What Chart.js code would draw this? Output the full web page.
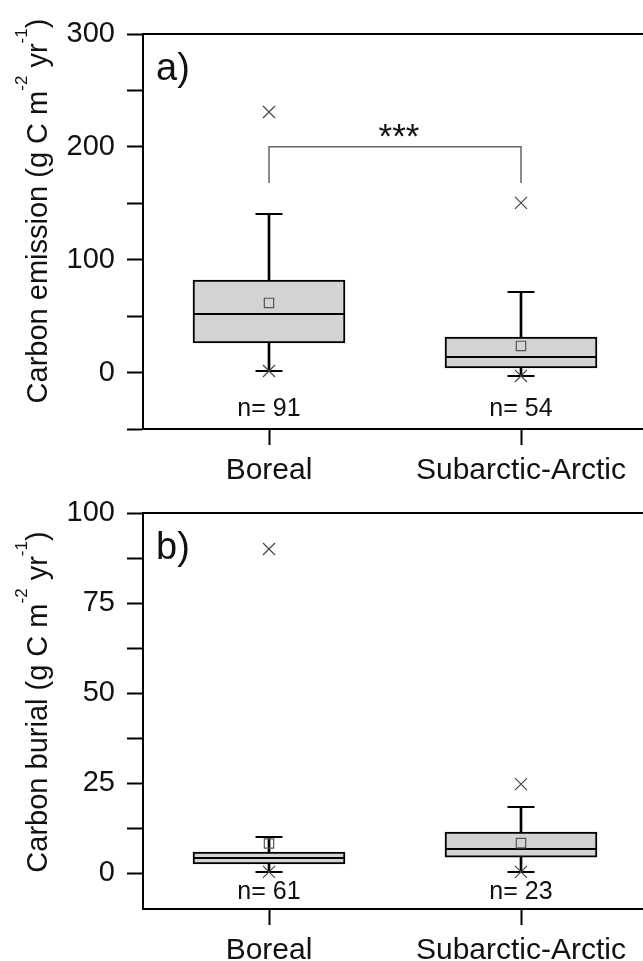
<!DOCTYPE html>
<html>
<head>
<meta charset="utf-8">
<script src="https://cdn.jsdelivr.net/npm/chart.js@4.4.1/dist/chart.umd.min.js"></script>
<style>
body{margin:0;background:#fff;overflow:hidden;width:643px;height:961px;position:relative;}
canvas{position:absolute;left:0;}
#emission{top:0}
#burial{top:480px}
</style>
</head>
<body>
<canvas id="emission" width="660" height="480"></canvas>
<canvas id="burial" width="660" height="481"></canvas>
<script>
const categories = ["Boreal", "Subarctic-Arctic"];

// a) carbon emission
const emisQ1 = [26.2, 4.1];
const emisQ3 = [82.0, 31.5];
const emisMedian = [51.9, 13.8];
const emisMean = [61.7, 23.6];
const emisLow = [1.4, -3.0];
const emisHigh = [140.4, 71.4];
const emisOutliers = [230.9, 150.4];
const emisN = ["n= 91", "n= 54"];
const emisTickLabels = [0, 100, 200, 300];

// b) carbon burial
const burQ1 = [2.5, 4.4];
const burQ3 = [5.8, 11.4];
const burMedian = [4.2, 6.7];
const burMean = [8.2, 8.3];
const burLow = [0.3, 0.3];
const burHigh = [10.0, 18.3];
const burOutliers = [90.0, 24.7];
const burN = ["n= 61", "n= 23"];
const burTickLabels = [0, 25, 50, 75, 100];

const FONT = '"Liberation Sans", Arial, Helvetica, sans-serif';
const INK = '#111';

function pts(vals) {
  return vals.map((v, i) => ({ x: categories[i], y: v }));
}

function drawYTitle(ctx, parts, cx, cy) {
  ctx.save();
  ctx.translate(cx, cy);
  ctx.rotate(-Math.PI / 2);
  let total = 0;
  parts.forEach(p => {
    ctx.font = (p.sup ? 17 : 29) + 'px ' + FONT;
    p.w = ctx.measureText(p.t).width;
    total += p.w;
  });
  let x = -total / 2;
  ctx.fillStyle = INK;
  ctx.textAlign = 'left';
  ctx.textBaseline = 'alphabetic';
  parts.forEach(p => {
    ctx.font = (p.sup ? 17 : 29) + 'px ' + FONT;
    ctx.fillText(p.t, x, p.sup ? -20 : 0);
    x += p.w;
  });
  ctx.restore();
}

function boxChart(id, d) {
  const extras = {
    id: 'extras',
    afterDraw(chart) {
      const { ctx, chartArea: a, scales: { x, y } } = chart;
      ctx.save();
      // top frame line
      ctx.strokeStyle = '#000';
      ctx.lineWidth = 2;
      ctx.beginPath();
      ctx.moveTo(a.left - 1, a.top);
      ctx.lineTo(chart.width, a.top);
      ctx.stroke();
      // panel letter
      ctx.fillStyle = INK;
      ctx.font = '38px ' + FONT;
      ctx.textAlign = 'left';
      ctx.textBaseline = 'middle';
      ctx.fillText(d.letter, a.left + 13, a.top + 36);
      // sample sizes
      ctx.font = '25px ' + FONT;
      ctx.textAlign = 'center';
      d.n.forEach((t, i) => ctx.fillText(t, x.getPixelForValue(i), y.getPixelForValue(d.nAt)));
      // significance bracket
      if (d.bracket) {
        const x0 = x.getPixelForValue(0), x1 = x.getPixelForValue(1);
        const yt = y.getPixelForValue(d.bracket[0]), yb = y.getPixelForValue(d.bracket[1]);
        ctx.strokeStyle = '#666';
        ctx.lineWidth = 1.5;
        ctx.beginPath();
        ctx.moveTo(x0, yb); ctx.lineTo(x0, yt); ctx.lineTo(x1, yt); ctx.lineTo(x1, yb);
        ctx.stroke();
        ctx.font = '35px ' + FONT;
        ctx.fillText('***', (x0 + x1) / 2 + 4, yt - 9);
      }
      ctx.restore();
      drawYTitle(ctx, d.title, 47, d.titleY);
    }
  };

  return new Chart(document.getElementById(id), {
    type: 'bar',
    data: {
      labels: categories,
      datasets: [
        { type: 'line', data: pts(d.mean), showLine: false, pointStyle: 'rect', pointRadius: 6.6,
          pointBorderColor: '#555', pointBackgroundColor: 'rgba(0,0,0,0)', pointBorderWidth: 1.2, order: 1 },
        { type: 'line', data: pts(d.low).concat(pts(d.out)), showLine: false, pointStyle: 'crossRot', pointRadius: 8.5,
          pointBorderColor: '#444', pointBorderWidth: 1.2, order: 2 },
        { type: 'line', data: pts(d.low).concat(pts(d.high)), showLine: false, pointStyle: 'line', pointRadius: 13.5,
          pointBorderColor: '#000', pointBorderWidth: 2, order: 3 },
        { type: 'line', data: pts(d.median), showLine: false, pointStyle: 'line', pointRadius: 75,
          pointBorderColor: '#000', pointBorderWidth: 2, order: 4 },
        { type: 'bar', data: d.q1.map((v, i) => [v, d.q3[i]]), backgroundColor: '#d3d3d3', borderColor: '#000',
          borderWidth: 2, borderSkipped: false, barThickness: 152, grouped: false, order: 5 },
        { type: 'bar', data: d.low.map((v, i) => [v, d.high[i]]), backgroundColor: '#000',
          barThickness: 2, grouped: false, order: 6 }
      ]
    },
    options: {
      responsive: false,
      animation: false,
      layout: { autoPadding: false, padding: { left: 0, top: d.top, right: 13, bottom: 0 } },
      plugins: { legend: { display: false }, tooltip: { enabled: false } },
      scales: {
        x: {
          offset: true,
          grid: { offset: false, drawOnChartArea: false, tickLength: 16, tickWidth: 2, tickColor: '#000' },
          border: { color: '#000', width: 2 },
          ticks: { color: INK, font: { family: FONT, size: 30 }, padding: 8, maxRotation: 0, autoSkip: false },
          afterFit: s => { s.height = d.xh; }
        },
        y: {
          min: d.min, max: d.max,
          grid: { drawOnChartArea: false, tickLength: 16, tickWidth: 2, tickColor: '#000' },
          border: { color: '#000', width: 2 },
          ticks: {
            stepSize: d.step, includeBounds: false, padding: 12, color: INK,
            font: { family: FONT, size: 29 },
            callback: v => d.labels.includes(v) ? String(v) : ''
          },
          afterFit: s => { s.width = 143; }
        }
      }
    },
    plugins: [extras]
  });
}

boxChart('emission', {
  q1: emisQ1, q3: emisQ3, median: emisMedian, mean: emisMean, low: emisLow, high: emisHigh, out: emisOutliers,
  n: emisN, labels: emisTickLabels, nAt: -32, bracket: [200, 168],
  min: -50, max: 300, step: 50, top: 34, xh: 51, letter: 'a)', titleY: 211,
  title: [{ t: 'Carbon emission (g C m' }, { t: '-2', sup: true }, { t: ' yr' }, { t: '-1', sup: true }, { t: ')' }]
});

boxChart('burial', {
  q1: burQ1, q3: burQ3, median: burMedian, mean: burMean, low: burLow, high: burHigh, out: burOutliers,
  n: burN, labels: burTickLabels, nAt: -5.3, bracket: null,
  min: -10, max: 100, step: 12.5, top: 33, xh: 52, letter: 'b)', titleY: 222,
  title: [{ t: 'Carbon burial (g C m' }, { t: '-2', sup: true }, { t: ' yr' }, { t: '-1', sup: true }, { t: ')' }]
});
</script>
</body>
</html>
